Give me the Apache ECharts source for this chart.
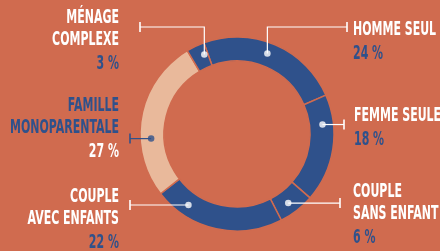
<!DOCTYPE html>
<html>
<head>
<meta charset="utf-8">
<script src="https://cdn.jsdelivr.net/npm/echarts@6/dist/echarts.min.js"></script>
<style>
html, body { margin: 0; padding: 0; background: #d06b4f; }
#chart { width: 440px; height: 251px; }
</style>
</head>
<body>
<div id="chart"></div>
<script>
var categories = ['Homme seul', 'Femme seule', 'Couple sans enfant', 'Couple avec enfants', 'Famille monoparentale', 'Ménage complexe'];
var labelNames = ['HOMME SEUL', 'FEMME SEULE', 'COUPLE\nSANS ENFANT', 'COUPLE\nAVEC ENFANTS', 'FAMILLE\nMONOPARENTALE', 'MÉNAGE\nCOMPLEXE'];
var values = [24, 18, 6, 22, 27, 3];
var highlightIndex = 4;

var BG = '#d06b4f', BLUE = '#2f518b', PEACH = '#e9b99b', WHITE = '#ffffff';
var CX = 237, CY = 134, R_IN = 73, R_OUT = 97, R_DOT = 86;
var START = 110;
var FONT = 'bold 15px "Liberation Sans Narrow", "DejaVu Sans Condensed", sans-serif';

// where each leader line sits (anchor shift in % of the circle, end of line, text block)
var leaders = [
	{shift: -0.7, endX: 347, elbowY: 27, textX: 353, textY: 30},
	{shift: -4.2, endX: 344, textX: 354, textY: 116},
	{shift: 0.4, endX: 340, textX: 353, textY: 192},
	{shift: 6.1, endX: 130, textX: 119, textY: 197},
	{shift: -3.8, endX: 130, textX: 119, textY: 106},
	{shift: 0.85, endX: 140, elbowY: 27, textX: 119, textY: 18}
];

// squeeze the text so the long word is as wide as in the original (~109px)
var ctx = document.createElement('canvas').getContext('2d');
ctx.font = FONT;
var SX = 109 / ctx.measureText('MONOPARENTALE').width;
var SY = 1.3;

var total = 0;
for (var i = 0; i < values.length; i++) total += values[i];

var pieData = [], dotData = [];
var acc = 0;
for (var i = 0; i < values.length; i++) {
	var hl = i == highlightIndex;
	pieData.push({name: categories[i], value: values[i], itemStyle: {color: hl ? PEACH : BLUE}});
	var a = (acc + values[i] / 2) / total * 100 + leaders[i].shift;
	dotData.push({value: [R_DOT, a], itemStyle: {color: hl ? BLUE : WHITE}});
	acc += values[i];
}

var chart = echarts.init(document.getElementById('chart'));
chart.setOption({
	backgroundColor: BG,
	animation: false,
	polar: {center: [CX, CY], radius: R_OUT},
	angleAxis: {type: 'value', min: 0, max: 100, startAngle: START, clockwise: true, show: false},
	radiusAxis: {type: 'value', min: 0, max: R_OUT, show: false},
	series: [{
		type: 'pie',
		center: [CX, CY],
		radius: [R_IN, R_OUT],
		startAngle: START,
		clockwise: true,
		silent: true,
		label: {show: false},
		labelLine: {show: false},
		itemStyle: {borderColor: BG, borderWidth: 1.5},
		data: pieData,
		z: 2
	}, {
		type: 'scatter',
		coordinateSystem: 'polar',
		symbol: 'circle',
		symbolSize: 6.5,
		silent: true,
		data: dotData,
		z: 4
	}]
});

var elements = [];
for (var i = 0; i < values.length; i++) {
	var L = leaders[i];
	var hl = i == highlightIndex;
	var lineColor = hl ? BLUE : WHITE;
	var p = chart.convertToPixel({seriesIndex: 1}, dotData[i].value);
	var pts;
	if (L.elbowY != null) {
		pts = [p, [p[0], L.elbowY], [L.endX, L.elbowY]];
	} else {
		pts = [p, [L.endX, p[1]]];
	}
	var tickY = pts[pts.length - 1][1];
	elements.push({type: 'polyline', z: 3, shape: {points: pts}, style: {stroke: lineColor, lineWidth: 1.2, fill: null}});
	elements.push({type: 'line', z: 3, shape: {x1: L.endX, y1: tickY - 5, x2: L.endX, y2: tickY + 5}, style: {stroke: lineColor, lineWidth: 1.6}});

	var align = L.textX < CX ? 'right' : 'left';
	var names = labelNames[i].split('\n');
	var y = L.textY;
	for (var k = 0; k < names.length; k++) {
		elements.push({type: 'text', x: L.textX, y: y, scaleX: SX, scaleY: SY, z: 5,
			style: {text: names[k], fill: hl ? BLUE : WHITE, font: FONT, textAlign: align, textVerticalAlign: 'middle', align: align, verticalAlign: 'middle'}});
		if (k < names.length - 1) y += 21.5;
	}
	y += 24;
	elements.push({type: 'text', x: L.textX, y: y, scaleX: SX, scaleY: SY, z: 5,
		style: {text: values[i] + ' %', fill: hl ? WHITE : BLUE, font: FONT, textAlign: align, textVerticalAlign: 'middle', align: align, verticalAlign: 'middle'}});
}
chart.setOption({graphic: {elements: elements}});
</script>
</body>
</html>
